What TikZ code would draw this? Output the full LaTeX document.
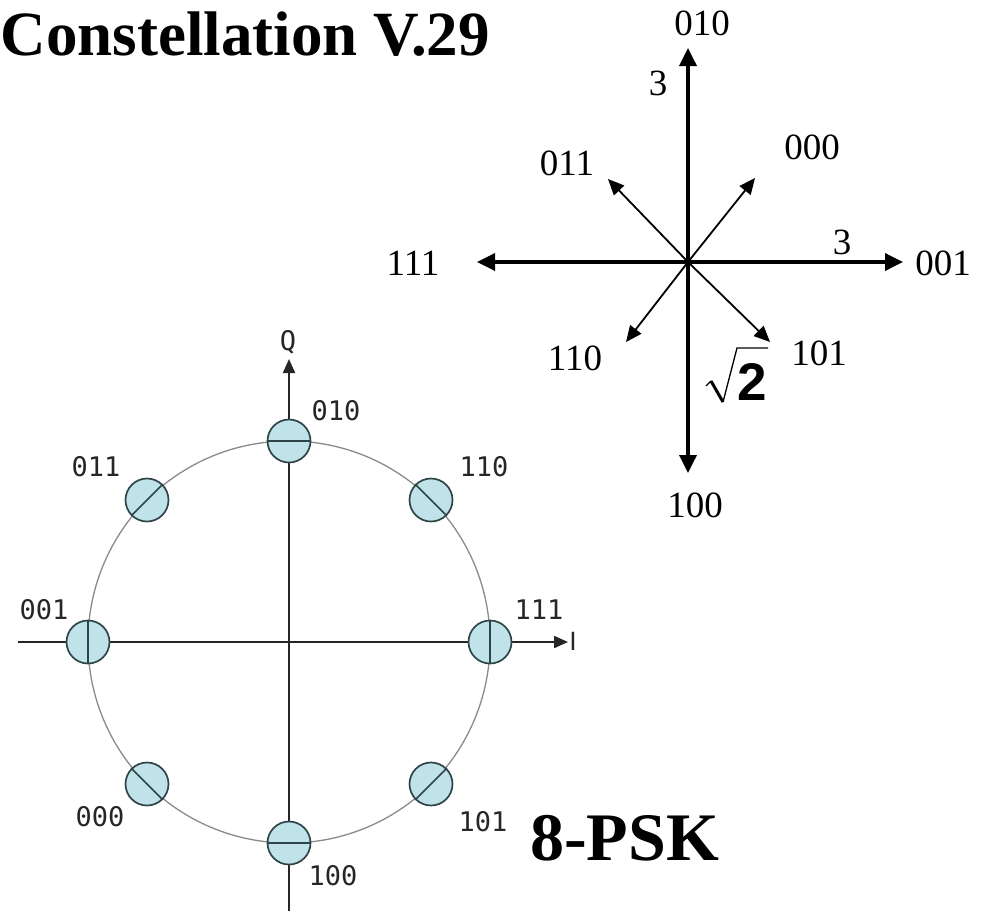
\documentclass[tikz,border=0pt]{standalone}
\usepackage{fontspec}
\setmainfont{Liberation Serif}
\newfontfamily\labfont{DejaVu Sans Mono}
\newfontfamily\plainsans{DejaVu Sans}
\newfontfamily\helvfont{Liberation Sans}
\usetikzlibrary{arrows.meta}
\definecolor{mkfill}{HTML}{BFE3E8}
\definecolor{mkline}{HTML}{2E4448}
\definecolor{ringc}{HTML}{8A8A8A}
\begin{document}
\begin{tikzpicture}[x=1pt,y=-1pt,
  bigax/.style={line width=3.5pt,{Triangle[length=18pt,width=17pt]}-{Triangle[length=18pt,width=17pt]}},
  diag/.style={line width=1.8pt,-{Triangle[length=16pt,width=14pt]}},
  serlab/.style={font=\fontsize{37}{40}\selectfont, inner sep=0pt},
  ax/.style={line width=2pt,draw=black!85},
  axarrow/.style={ax,-{Triangle[length=14pt,width=12pt]}},
  ring/.style={line width=1.3pt,draw=ringc},
  marker/.style={circle,minimum size=43pt,inner sep=0pt,fill=mkfill,draw=mkline,line width=1.7pt},
  tang/.style={line width=1.6pt,draw=mkline},
  monolab/.style={font=\labfont\fontsize{27}{30}\selectfont, inner sep=0pt, text=black!85},
  bigtitle/.style={font=\fontsize{63}{70}\selectfont\bfseries, inner sep=0pt}
]
\useasboundingbox (0,0) rectangle (992,910);

% ---- titles ----
\node[bigtitle,anchor=base east] (title) at (490,55) {Constellation V.29};
\node[font=\fontsize{68}{75}\selectfont\bfseries, inner sep=0pt, anchor=base west] (psk) at (530,860) {8-PSK};

% ---- V.29 diagram ----
\coordinate (O) at (688,262);
\coordinate (N) at (688,48);
\coordinate (S) at (688,473);
\coordinate (W) at (477,262);
\coordinate (E) at (903,262);
\coordinate (NE) at (755,178);
\coordinate (NW) at (608,179);
\coordinate (SW) at (626,342);
\coordinate (SE) at (770,342);
\draw[bigax] (S) -- (N);
\draw[bigax] (W) -- (E);
\draw[diag] (O) -- (NE);
\draw[diag] (O) -- (NW);
\draw[diag] (O) -- (SW);
\draw[diag] (O) -- (SE);

\node[serlab] (r010) at (702,23) {010};
\node[serlab] (r3a) at (658,83) {3};
\node[serlab] (r000) at (812,147) {000};
\node[serlab] (r011) at (567,163) {011};
\node[serlab] (r3b) at (842,242) {3};
\node[serlab] (r001) at (943,263) {001};
\node[serlab] (r111) at (413,263) {111};
\node[serlab] (r110) at (575,358) {110};
\node[serlab] (r101) at (819,353) {101};
\node[serlab] (r100) at (695,505) {100};
% square root of 2
\node[inner sep=0pt, font=\helvfont\bfseries\fontsize{53}{58}\selectfont, anchor=base] (rtwo) at (752,400) {2};
\coordinate (rad1) at (706,386);
\coordinate (rad2) at (711,381);
\coordinate (rad3) at (723,402);
\coordinate (rad4) at (737,348);
\coordinate (rad5) at (768,348);
\draw[line width=1.2pt, line join=miter] (rad1) -- (rad2);
\draw[line width=3pt] (rad2) -- (rad3);
\draw[line width=1.3pt, line join=miter] (rad3) -- (rad4) -- (rad5);

% ---- 8-PSK diagram ----
\coordinate (C) at (289,642);
\coordinate (Qtop) at (289,359);
\coordinate (Qbot) at (289,912);
\coordinate (Ileft) at (18,642);
\coordinate (Iright) at (568,642);
\draw[ring] (C) circle[radius=201];
\draw[axarrow] (Qbot) -- (Qtop);
\draw[axarrow] (Ileft) -- (Iright);

\node[marker] (m010) at (289,441) {};
\node[marker] (m100) at (289,843) {};
\node[marker] (m001) at (88,642) {};
\node[marker] (m111) at (490,642) {};
\node[marker] (m011) at (147,500) {};
\node[marker] (m110) at (431,500) {};
\node[marker] (m000) at (147,784) {};
\node[marker] (m101) at (431,784) {};
\draw[tang] (m010.180) -- (m010.0);
\draw[tang] (m100.180) -- (m100.0);
\draw[tang] (m001.90) -- (m001.270);
\draw[tang] (m111.90) -- (m111.270);
\draw[tang] (m011.225) -- (m011.45);
\draw[tang] (m101.225) -- (m101.45);
\draw[tang] (m110.135) -- (m110.315);
\draw[tang] (m000.135) -- (m000.315);

\node[monolab] (lq) at (288,342) {Q};
\node[monolab, font=\plainsans\fontsize{25}{28}\selectfont] (li) at (573,641) {I};
\node[monolab] (l010) at (336,411) {010};
\node[monolab] (l011) at (96,467) {011};
\node[monolab] (l110) at (484,467) {110};
\node[monolab] (l001) at (44,610) {001};
\node[monolab] (l111) at (539,610) {111};
\node[monolab] (l000) at (100,817) {000};
\node[monolab] (l101) at (483,822) {101};
\node[monolab] (l100) at (333,876) {100};
\end{tikzpicture}
\end{document}
